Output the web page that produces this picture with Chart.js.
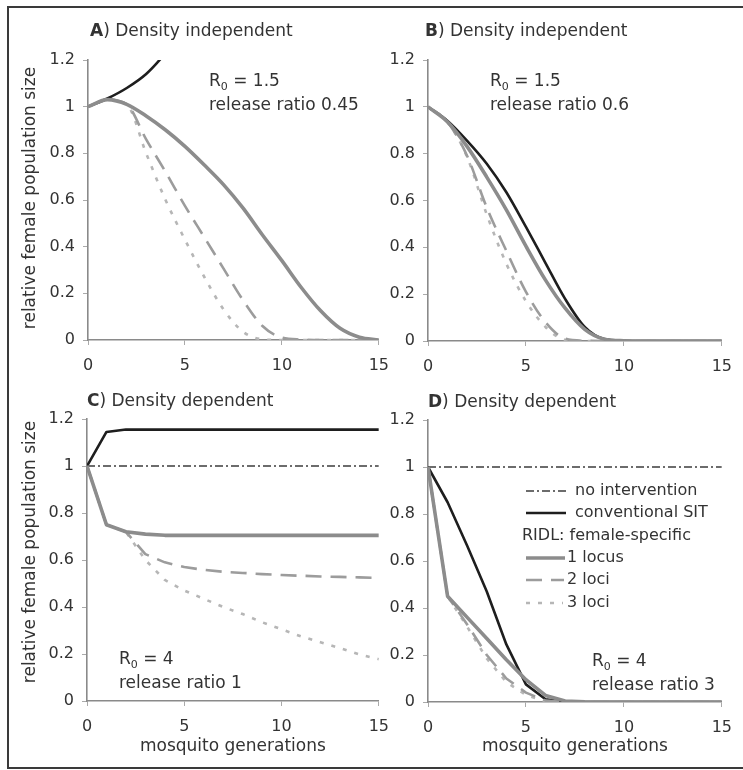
<!DOCTYPE html>
<html><head><meta charset="utf-8">
<script src="https://cdn.jsdelivr.net/npm/chart.js@4"></script>
<style>
html,body{margin:0;padding:0;background:#fff;}
body{width:743px;height:770px;position:relative;overflow:hidden;}
.frame{position:absolute;left:7px;top:6px;width:760px;height:759px;border:2px solid #3a3a3a;border-right:none;}
canvas{position:absolute;}
</style></head><body>
<div class="frame"></div>
<canvas id="cA" width="400" height="385" style="left:0px;top:0px"></canvas>
<canvas id="cB" width="363" height="385" style="left:380px;top:0px"></canvas>
<canvas id="cC" width="400" height="385" style="left:0px;top:385px"></canvas>
<canvas id="cD" width="363" height="385" style="left:380px;top:385px"></canvas>
<script>
// ---------------- data ----------------
const generations = [0,1,2,3,4,5,6,7,8,9,10,11,12,13,14,15];
const yTickLabels = ['0','0.2','0.4','0.6','0.8','1','1.2'];
const xTickLabels = ['0','5','10','15'];
const seriesNames = ['no intervention','conventional SIT','1 locus','2 loci','3 loci'];
const legendHeading = 'RIDL: female-specific';

// Panel A: density independent, R0 = 1.5, release ratio 0.45
const sitA    = [1.00,1.035,1.08,1.14,1.23,1.34,1.47];
const locus1A = [1.00,1.03,1.01,0.96,0.90,0.83,0.75,0.665,0.565,0.45,0.34,0.225,0.125,0.05,0.012,0.0];
const loci2A  = [1.00,1.03,1.01,0.86,0.72,0.575,0.44,0.305,0.17,0.06,0.01,0.002,0,0,0,0];
const loci3A  = [1.00,1.03,1.01,0.80,0.60,0.43,0.27,0.13,0.035,0.003,0,0,0,0,0,0];

// Panel B: density independent, R0 = 1.5, release ratio 0.6
const sitB    = [1.00,0.94,0.855,0.757,0.635,0.487,0.333,0.18,0.06,0.008,0.001,0,0,0,0,0];
const locus1B = [1.00,0.935,0.83,0.70,0.56,0.405,0.26,0.14,0.05,0.008,0.001,0,0,0,0,0];
const loci2B  = [1.00,0.935,0.79,0.57,0.385,0.21,0.08,0.01,0.001,0,0,0,0,0,0,0];
const loci3B  = [1.00,0.935,0.785,0.54,0.33,0.17,0.06,0.005,0,0,0,0,0,0,0,0];

// Panel C: density dependent, R0 = 4, release ratio 1
const noneC   = [1,1,1,1,1,1,1,1,1,1,1,1,1,1,1,1];
const sitC    = [1.00,1.145,1.155,1.155,1.155,1.155,1.155,1.155,1.155,1.155,1.155,1.155,1.155,1.155,1.155,1.155];
const locus1C = [1.00,0.75,0.72,0.71,0.705,0.705,0.705,0.705,0.705,0.705,0.705,0.705,0.705,0.705,0.705,0.705];
const loci2C  = [1.00,0.75,0.72,0.625,0.59,0.57,0.558,0.55,0.545,0.54,0.536,0.533,0.53,0.528,0.526,0.524];
const loci3C  = [1.00,0.75,0.72,0.60,0.515,0.47,0.435,0.40,0.37,0.335,0.305,0.275,0.25,0.225,0.198,0.178];

// Panel D: density dependent, R0 = 4, release ratio 3
const noneD   = [1,1,1,1,1,1,1,1,1,1,1,1,1,1,1,1];
const sitD    = [1.00,0.85,0.665,0.47,0.245,0.075,0.012,0.001,0,0,0,0,0,0,0,0];
const locus1D = [1.00,0.45,0.36,0.27,0.18,0.095,0.028,0.004,0.001,0,0,0,0,0,0,0];
const loci2D  = [1.00,0.45,0.33,0.20,0.10,0.04,0.006,0,0,0,0,0,0,0,0,0];
const loci3D  = [1.00,0.45,0.32,0.185,0.085,0.03,0.003,0,0,0,0,0,0,0,0,0];

// ---------------- styles ----------------
const FONT = "'DejaVu Sans', 'Liberation Sans', sans-serif";
const TEXT = '#333333';
Chart.defaults.font.family = FONT;
Chart.defaults.font.size = 16;
Chart.defaults.color = TEXT;

const styles = [
  {borderColor:'#3c3c3c', borderWidth:1.3, borderDash:[8,3,2,3], order:5},
  {borderColor:'#1e1e1e', borderWidth:2.6, borderDash:[], order:4},
  {borderColor:'#8c8c8c', borderWidth:3.6, borderDash:[], order:1},
  {borderColor:'#9c9c9c', borderWidth:2.6, borderDash:[16,9], order:2},
  {borderColor:'#b6b6b6', borderWidth:2.6, borderDash:[4,8], order:3}
];

function makeDs(idx, vals, smooth){
  return Object.assign({
    label: seriesNames[idx],
    data: vals.map((v,i)=>({x:generations[i], y:v})),
    pointRadius:0, pointHoverRadius:0, tension:0, clip:0, fill:false,
    cubicInterpolationMode: smooth ? 'monotone' : 'default',
    borderCapStyle:'butt', borderJoinStyle:'round'
  }, styles[idx]);
}

function richText(ctx, x, y, parts, size){
  let cx = x;
  ctx.textBaseline = 'middle';
  ctx.textAlign = 'left';
  for (const p of parts){
    const s = p.size || size;
    ctx.font = (p.bold ? 'bold ' : '') + s + 'px ' + FONT;
    ctx.fillText(p.t, cx, y + (p.dy || 0));
    cx += ctx.measureText(p.t).width;
  }
}

const textPlugin = {
  id:'panelText',
  afterDraw(chart, args, opts){
    const ctx = chart.ctx;
    const ox = opts.ox, oy = opts.oy;
    ctx.save();
    ctx.fillStyle = TEXT;
    richText(ctx, opts.title.x - ox, opts.title.y - oy,
      [{t:opts.title.letter, bold:true},{t:') ' + opts.title.text}], 17);
    const a = opts.note;
    richText(ctx, a.x - ox, a.y - oy, [{t:'R'},{t:'0', size:11, dy:5},{t:' = ' + a.r0}], 17);
    richText(ctx, a.x - ox, a.y2 - oy, [{t:'release ratio ' + a.ratio}], 17);
    if (opts.yTitle){
      ctx.save();
      ctx.translate(opts.yTitle.x - ox, opts.yTitle.y - oy);
      ctx.rotate(-Math.PI/2);
      ctx.font = '17px ' + FONT;
      ctx.textAlign = 'center';
      ctx.textBaseline = 'middle';
      ctx.fillText(opts.yTitle.text, 0, 0);
      ctx.restore();
    }
    if (opts.xTitle){
      ctx.font = '17px ' + FONT;
      ctx.textAlign = 'center';
      ctx.textBaseline = 'middle';
      const xs = chart.scales.x;
      ctx.fillText(opts.xTitle.text, (xs.left + xs.right)/2, opts.xTitle.y - oy);
    }
    if (opts.legend){
      const ds = chart.data.datasets;
      const rows = [
        {ds:0, y:491, x1:526, x2:566, tx:575},
        {ds:1, y:513, x1:526, x2:566, tx:575},
        {head:true, y:536, tx:522},
        {ds:2, y:558, x1:526, x2:565, tx:567},
        {ds:3, y:580, x1:526, x2:564, tx:567},
        {ds:4, y:603, x1:526, x2:563, tx:567}
      ];
      for (const r of rows){
        ctx.font = '16px ' + FONT;
        ctx.textAlign = 'left';
        ctx.textBaseline = 'middle';
        ctx.fillStyle = TEXT;
        if (r.head){ ctx.fillText(legendHeading, r.tx - ox, r.y - oy); continue; }
        const d = ds.find(z => z.label === seriesNames[r.ds]);
        ctx.save();
        ctx.strokeStyle = d.borderColor;
        ctx.lineWidth = d.borderWidth;
        ctx.setLineDash(d.borderDash);
        ctx.beginPath();
        ctx.moveTo(r.x1 - ox, r.y - oy);
        ctx.lineTo(r.x2 - ox, r.y - oy);
        ctx.stroke();
        ctx.restore();
        ctx.fillText(seriesNames[r.ds], r.tx - ox, r.y - oy);
      }
    }
    ctx.restore();
  }
};

function makeChart(id, datasets, lay, extra){
  const axisColor = '#8a8a8a';
  return new Chart(document.getElementById(id), {
    type:'line',
    data:{datasets},
    plugins:[textPlugin],
    options:{
      responsive:false, animation:false, events:[],
      layout:{padding:{left:0, right:lay.pr, top:lay.pt, bottom:lay.pb}},
      plugins:{legend:{display:false}, tooltip:{enabled:false}, title:{display:false},
        panelText: extra},
      scales:{
        x:{type:'linear', min:0, max:15,
          ticks:{stepSize:5, padding:11, color:TEXT, font:{size:16},
            callback:(v)=>xTickLabels[Math.round(v/5)]},
          grid:{drawOnChartArea:false, drawTicks:true, tickLength:5, tickColor:'#aaaaaa', tickWidth:1},
          border:{display:true, color:axisColor, width:1.6},
          afterFit:(s)=>{ s.height = 40; }
        },
        y:{type:'linear', min:0, max:1.2,
          ticks:{stepSize:0.2, padding:8, color:TEXT, font:{size:16},
            callback:(v)=>yTickLabels[Math.round(v/0.2)]},
          grid:{drawOnChartArea:false, drawTicks:true, tickLength:5, tickColor:'#aaaaaa', tickWidth:1},
          border:{display:true, color:axisColor, width:1.6},
          afterFit:(s)=>{ s.width = lay.yw; }
        }
      }
    }
  });
}

const yTitleText = 'relative female population size';
const xTitleText = 'mosquito generations';

makeChart('cA', [makeDs(1,sitA,true), makeDs(2,locus1A,true), makeDs(3,loci2A,true), makeDs(4,loci3A,true)],
  {yw:88, pr:14, pt:60, pb:5},
  {ox:0, oy:0, title:{letter:'A', text:'Density independent', x:90, y:32},
   note:{x:209, y:82, y2:106, r0:'1.5', ratio:'0.45'},
   yTitle:{text:yTitleText, x:31, y:198}});

makeChart('cB', [makeDs(1,sitB,true), makeDs(2,locus1B,true), makeDs(3,loci2B,true), makeDs(4,loci3B,true)],
  {yw:48, pr:17, pt:60, pb:4},
  {ox:380, oy:0, title:{letter:'B', text:'Density independent', x:425, y:32},
   note:{x:490, y:82, y2:106, r0:'1.5', ratio:'0.6'}});

makeChart('cC', [makeDs(0,noneC), makeDs(1,sitC), makeDs(2,locus1C), makeDs(3,loci2C), makeDs(4,loci3C)],
  {yw:87, pr:14, pt:34, pb:29},
  {ox:0, oy:385, title:{letter:'C', text:'Density dependent', x:87, y:402},
   note:{x:119, y:660, y2:684, r0:'4', ratio:'1'},
   yTitle:{text:yTitleText, x:31, y:552},
   xTitle:{text:xTitleText, y:747}});

makeChart('cD', [makeDs(0,noneD), makeDs(1,sitD), makeDs(2,locus1D), makeDs(3,loci2D), makeDs(4,loci3D)],
  {yw:48, pr:17, pt:35, pb:28},
  {ox:380, oy:385, title:{letter:'D', text:'Density dependent', x:428, y:403},
   note:{x:592, y:662, y2:686, r0:'4', ratio:'3'},
   xTitle:{text:xTitleText, y:747},
   legend:true});
</script>
</body></html>
